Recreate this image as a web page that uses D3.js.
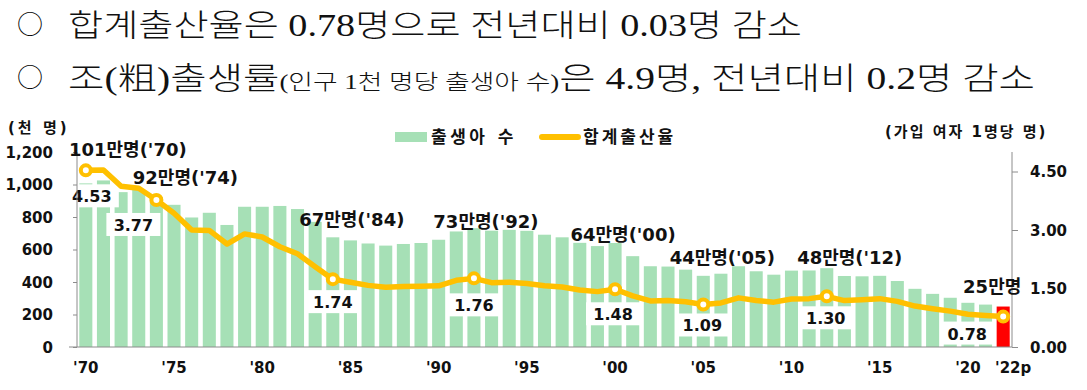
<!DOCTYPE html>
<html>
<head>
<meta charset="utf-8">
<script src="https://cdn.jsdelivr.net/npm/d3@7/dist/d3.min.js"></script>
<style>
  body { margin: 0; background: #fff; }
  .head { font-family: "Liberation Serif", "Noto Sans CJK KR", serif; font-weight: 300; fill: #111; }
  .chart text { font-family: "DejaVu Sans", "Noto Sans CJK KR", sans-serif; font-weight: bold; fill: #111; }
</style>
</head>
<body>
<svg id="mainsvg" width="1087" height="390"></svg>
<script>
// 연도별 출생아 수(천 명), 합계출산율(가임 여자 1명당 명)
var years = [1970, 1971, 1972, 1973, 1974, 1975, 1976, 1977, 1978, 1979,
  1980, 1981, 1982, 1983, 1984, 1985, 1986, 1987, 1988, 1989,
  1990, 1991, 1992, 1993, 1994, 1995, 1996, 1997, 1998, 1999,
  2000, 2001, 2002, 2003, 2004, 2005, 2006, 2007, 2008, 2009,
  2010, 2011, 2012, 2013, 2014, 2015, 2016, 2017, 2018, 2019,
  2020, 2021, 2022];
var births = [1007, 1025, 953, 966, 923, 875, 797, 826, 751, 863,
  863, 868, 849, 770, 675, 656, 637, 624, 634, 640,
  660, 711, 731, 716, 721, 715, 691, 675, 641, 621,
  640, 559, 497, 495, 476, 438, 451, 497, 466, 445,
  470, 471, 485, 437, 435, 438, 406, 358, 327, 303,
  272, 261, 249];
var tfr = [4.53, 4.54, 4.12, 4.07, 3.77, 3.43, 3.0, 2.99, 2.64, 2.9,
  2.82, 2.57, 2.39, 2.06, 1.74, 1.66, 1.58, 1.53, 1.55, 1.56,
  1.57, 1.71, 1.76, 1.65, 1.66, 1.63, 1.57, 1.54, 1.46, 1.42,
  1.48, 1.31, 1.18, 1.19, 1.16, 1.09, 1.13, 1.26, 1.19, 1.15,
  1.23, 1.24, 1.3, 1.19, 1.21, 1.24, 1.17, 1.05, 0.98, 0.92,
  0.84, 0.81, 0.78];

var markYears = [1970, 1974, 1984, 1992, 2000, 2005, 2012, 2022];
var birthNotes = ["101만명('70)", "92만명('74)", "67만명('84)", "73만명('92)",
  "64만명('00)", "44만명('05)", "48만명('12)", "25만명"];
var tfrNotes = ["4.53", "3.77", "1.74", "1.76", "1.48", "1.09", "1.30", "0.78"];

var xTickYears = [1970, 1975, 1980, 1985, 1990, 1995, 2000, 2005, 2010, 2015, 2020, 2022];
var xTickLabels = ["'70", "'75", "'80", "'85", "'90", "'95", "'00", "'05", "'10", "'15", "'20", "'22p"];
var leftTicks = [0, 200, 400, 600, 800, 1000, 1200];
var rightTicks = [0, 1.5, 3, 4.5];

var headLine1 = "합계출산율은 0.78명으로 전년대비 0.03명 감소";
var headLine2a = "조(粗)출생률";
var headLine2b = "(인구 1천 명당 출생아 수)";
var headLine2c = "은 4.9명, 전년대비 0.2명 감소";

// 주석 위치 (표시 지점 기준 px)
var birthNoteOffset = [[42, -27], [29, -13], [19, -11], [12, 0], [8, -2], [19, -12], [23, -4], [-11, -14]];
var tfrNoteOffset = [[6, 26], [-23, 25], [0, 23], [0, 27], [-2, 25], [-1, 21], [-1, 22], [-36, 17]];

var svg = d3.select("#mainsvg");
var x0 = 77, x1 = 1012, yTop = 152, yBot = 347;

drawHeader();
drawChart();

/**
 * 상단 요약 문구
 */
function drawHeader() {
  var g = svg.append("g").attr("class", "head-layer");
  [36, 89].forEach(function (y) {
    g.append("text").attr("x", 17).attr("y", y - 2)
      .style("font-family", "Noto Sans CJK KR").style("font-weight", "300")
      .style("font-size", "26px").text("○");
  });
  g.append("text").attr("class", "head")
    .attr("x", 68).attr("y", 36)
    .attr("textLength", 734).attr("lengthAdjust", "spacingAndGlyphs")
    .style("font-size", "31px")
    .text(headLine1);
  var t2 = g.append("text").attr("class", "head")
    .attr("x", 68).attr("y", 89)
    .attr("textLength", 967).attr("lengthAdjust", "spacingAndGlyphs")
    .style("font-size", "31px");
  t2.append("tspan").text(headLine2a);
  t2.append("tspan").style("font-size", "21px").text(headLine2b);
  t2.append("tspan").text(headLine2c);
}

/**
 * 막대 + 꺾은선 차트
 */
function drawChart() {
  var chart = svg.append("g").attr("class", "chart");

  var x = d3.scaleBand().domain(years).range([x0, x1])
    .paddingInner(0.26).paddingOuter(0.13);
  var yL = d3.scaleLinear().domain([0, 1200]).range([yBot, yTop]);
  var yR = d3.scaleLinear().domain([0, 5]).range([yBot, yTop]);
  var cx = function (yr) { return x(yr) + x.bandwidth() / 2; };

  // bars
  chart.append("g").attr("class", "bars")
    .selectAll("rect")
    .data(years)
    .enter()
    .append("rect")
    .attr("x", function (d) { return x(d); })
    .attr("width", x.bandwidth())
    .attr("y", function (d, i) { return yL(births[i]); })
    .attr("height", function (d, i) { return yBot - yL(births[i]); })
    .attr("fill", function (d) { return d === 2022 ? "#ff0000" : "#a6e0b6"; });

  // 합계출산율 라벨 박스 (막대를 가림)
  var boxes = chart.append("g").attr("class", "tfr-notes");
  markYears.forEach(function (yr, i) {
    var k = years.indexOf(yr);
    var px = cx(yr) + tfrNoteOffset[i][0];
    var py = yR(tfr[k]) + tfrNoteOffset[i][1];
    boxes.append("rect")
      .attr("x", px - 27).attr("y", py - 12)
      .attr("width", 54).attr("height", 23)
      .attr("fill", "#fff");
    boxes.append("text")
      .attr("x", px).attr("y", py + 6)
      .attr("text-anchor", "middle")
      .style("font-size", "16px")
      .text(tfrNotes[i]);
  });

  // axes
  var axes = chart.append("g").attr("class", "axes").attr("stroke", "#8c8c8c");
  axes.append("line").attr("x1", 69).attr("x2", x1).attr("y1", yBot).attr("y2", yBot);
  axes.append("line").attr("x1", x0).attr("x2", x0).attr("y1", yTop).attr("y2", yBot);
  axes.append("line").attr("x1", x1).attr("x2", x1).attr("y1", yTop).attr("y2", yBot);

  var left = chart.append("g").attr("transform", "translate(" + x0 + ",0)")
    .call(d3.axisLeft(yL).tickValues(leftTicks).tickSize(4).tickFormat(d3.format(",")));
  left.select(".domain").remove();
  left.selectAll("line").attr("stroke", "#8c8c8c");
  left.selectAll("text").attr("x", -24).attr("dy", "0.36em").style("font-size", "15px");

  var right = chart.append("g").attr("transform", "translate(" + x1 + ",0)")
    .call(d3.axisRight(yR).tickValues(rightTicks).tickSize(6).tickFormat(d3.format(".2f")));
  right.select(".domain").remove();
  right.selectAll("line").attr("stroke", "#8c8c8c");
  right.selectAll("text").attr("x", 18).attr("dy", "0.36em").style("font-size", "15px");

  var bottom = chart.append("g").attr("transform", "translate(0," + yBot + ")")
    .call(d3.axisBottom(x).tickValues(xTickYears).tickSize(0)
      .tickFormat(function (d) { return xTickLabels[xTickYears.indexOf(d)]; }));
  bottom.select(".domain").remove();
  bottom.selectAll("text").attr("y", 15).attr("dy", "0.71em").style("font-size", "15px");
  bottom.selectAll(".tick").filter(function (d) { return d === 2022; })
    .select("text").attr("x", 10);

  // line
  var line = d3.line()
    .x(function (d) { return cx(d); })
    .y(function (d, i) { return yR(tfr[i]); });
  chart.append("path")
    .datum(years)
    .attr("d", line)
    .attr("fill", "none")
    .attr("stroke", "#ffc000")
    .attr("stroke-width", 5.5)
    .attr("stroke-linejoin", "round");

  chart.append("g").attr("class", "markers")
    .selectAll("circle")
    .data(markYears)
    .enter()
    .append("circle")
    .attr("cx", function (d) { return cx(d); })
    .attr("cy", function (d) { return yR(tfr[years.indexOf(d)]); })
    .attr("r", 5)
    .attr("fill", "#fff")
    .attr("stroke", "#ffc000")
    .attr("stroke-width", 4);

  // 출생아 수 주석
  var notes = chart.append("g").attr("class", "birth-notes");
  markYears.forEach(function (yr, i) {
    var k = years.indexOf(yr);
    notes.append("text")
      .attr("x", cx(yr) + birthNoteOffset[i][0])
      .attr("y", yL(births[k]) + birthNoteOffset[i][1])
      .attr("text-anchor", "middle")
      .style("font-size", "18px")
      .text(birthNotes[i]);
  });

  // unit titles
  chart.append("text").attr("x", 8).attr("y", 133).style("font-size", "15px")
    .attr("letter-spacing", "3").text("(천 명)");
  chart.append("text").attr("x", 885).attr("y", 137).style("font-size", "15px")
    .attr("letter-spacing", "2").text("(가입 여자 1명당 명)");

  // legend
  var lg = chart.append("g").attr("class", "legend");
  lg.append("rect").attr("x", 395).attr("y", 132).attr("width", 32).attr("height", 10).attr("fill", "#a6e0b6");
  lg.append("text").attr("x", 431).attr("y", 143).style("font-size", "17px")
    .attr("letter-spacing", "3.5").text("출생아 수");
  lg.append("line").attr("x1", 542).attr("x2", 578).attr("y1", 137).attr("y2", 137)
    .attr("stroke", "#ffc000").attr("stroke-width", 6).attr("stroke-linecap", "round");
  lg.append("text").attr("x", 583).attr("y", 143).style("font-size", "17px")
    .attr("letter-spacing", "3").text("합계출산율");
}
</script>
</body>
</html>
